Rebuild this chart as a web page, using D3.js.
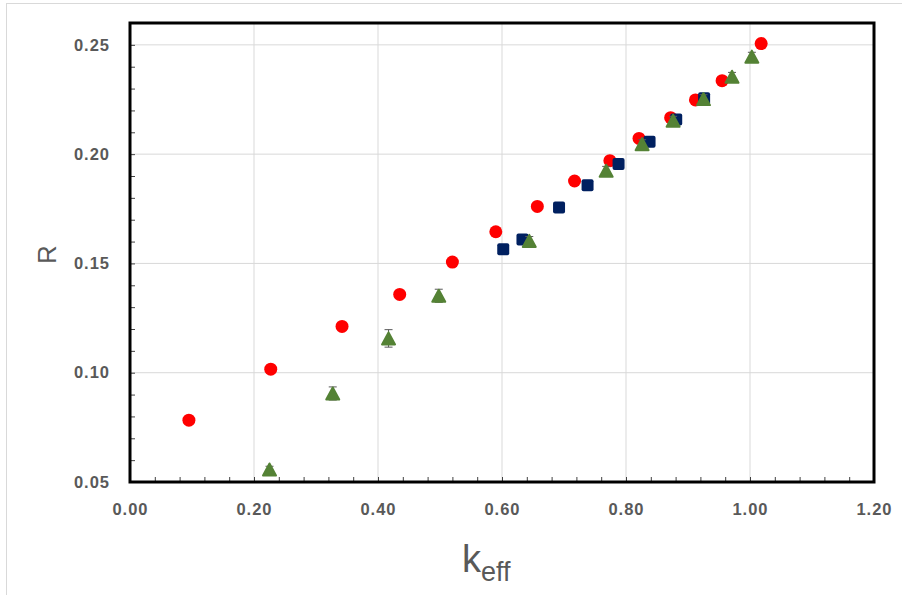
<!DOCTYPE html>
<html>
<head>
<meta charset="utf-8">
<script src="https://cdnjs.cloudflare.com/ajax/libs/d3/7.8.5/d3.min.js"></script>
<style>
	body { margin: 0; background: #fff; }
	svg { display: block; }
	.tick-label { font-family: 'Liberation Sans', Arial, sans-serif; font-weight: bold; font-size: 16.5px; fill: #595959; letter-spacing: 1px; }
	.axis-title { font-family: 'Liberation Sans', Arial, sans-serif; fill: #595959; }
</style>
</head>
<body>
<div id="chart"></div>
<script>
// series
var redX = [0.095, 0.227, 0.342, 0.435, 0.520, 0.590, 0.657, 0.717, 0.774, 0.821, 0.872, 0.912, 0.955, 1.018];
var redY = [0.0783, 0.1016, 0.1212, 0.1358, 0.1506, 0.1645, 0.1761, 0.1877, 0.1970, 0.2072, 0.2167, 0.2248, 0.2336, 0.2506];

var blueX = [0.602, 0.633, 0.692, 0.738, 0.788, 0.838, 0.881, 0.926];
var blueY = [0.1565, 0.1610, 0.1756, 0.1858, 0.1955, 0.2057, 0.2159, 0.2256];

var greenX = [0.225, 0.327, 0.417, 0.498, 0.644, 0.768, 0.826, 0.876, 0.925, 0.971, 1.003];
var greenY = [0.0557, 0.0905, 0.1157, 0.1352, 0.1603, 0.1924, 0.2046, 0.2153, 0.2252, 0.2354, 0.2446];
var greenErr = [0.0015, 0.003, 0.004, 0.003, 0.002, 0.002, 0.002, 0.002, 0.002, 0.002, 0.002];

var xTicks = [0, 0.2, 0.4, 0.6, 0.8, 1.0, 1.2];
var yTicks = [0.05, 0.10, 0.15, 0.20, 0.25];
var xDomain = [0, 1.2];
var yDomain = [0.05, 0.26];

var margin = { top: 23, right: 28, bottom: 113, left: 130 };
var W = 902, H = 595;
var width = W - margin.left - margin.right;
var height = H - margin.top - margin.bottom;

var colors = { red: '#ff0000', blue: '#002060', green: '#548235' };

function zip(xs, ys) {
	return xs.map(function(x, i) { return { x: x, y: ys[i] }; });
}

// triangle centred on its bounding box, like the spreadsheet marker
var triangle = {
	draw: function(context, size) {
		var w = size, h = size * 0.93;
		context.moveTo(0, -h / 2);
		context.lineTo(w / 2, h / 2);
		context.lineTo(-w / 2, h / 2);
		context.closePath();
	}
};

var svg = d3.select('#chart').append('svg')
	.attr('width', W)
	.attr('height', H);

// outer chart frame
svg.append('rect')
	.attr('x', 6.5)
	.attr('y', 3.5)
	.attr('width', W + 20)
	.attr('height', H + 20)
	.attr('fill', 'none')
	.attr('stroke', '#d9d9d9');

var g = svg.append('g')
	.attr('transform', 'translate(' + margin.left + ',' + margin.top + ')');

var x = d3.scaleLinear().domain(xDomain).range([0, width]);
var y = d3.scaleLinear().domain(yDomain).range([height, 0]);

// gridlines
g.append('g')
	.selectAll('line.vgrid')
	.data(xTicks)
	.enter().append('line')
	.attr('x1', function(d) { return x(d); })
	.attr('x2', function(d) { return x(d); })
	.attr('y1', 0)
	.attr('y2', height)
	.attr('stroke', '#d9d9d9')
	.attr('stroke-width', 1);

g.append('g')
	.selectAll('line.hgrid')
	.data(yTicks)
	.enter().append('line')
	.attr('x1', 0)
	.attr('x2', width)
	.attr('y1', function(d) { return y(d); })
	.attr('y2', function(d) { return y(d); })
	.attr('stroke', '#d9d9d9')
	.attr('stroke-width', 1);

// minor tick marks, pointing inward
var xMinor = d3.range(0, 1.2001, 0.04);
var yMinor = d3.range(0.05, 0.2601, 0.01);

g.append('g')
	.attr('transform', 'translate(0,' + height + ')')
	.call(d3.axisTop(x).tickValues(xMinor).tickSize(5).tickFormat(''))
	.call(function(a) {
		a.select('.domain').remove();
		a.selectAll('line').attr('stroke', '#404040');
	});

g.append('g')
	.call(d3.axisRight(y).tickValues(yMinor).tickSize(5).tickFormat(''))
	.call(function(a) {
		a.select('.domain').remove();
		a.selectAll('line').attr('stroke', '#404040');
	});

// tick labels
var xAxis = g.append('g')
	.attr('transform', 'translate(0,' + height + ')')
	.call(d3.axisBottom(x).tickValues(xTicks).tickSize(0).tickPadding(21).tickFormat(d3.format('.2f')));
xAxis.select('.domain').remove();
xAxis.selectAll('text').attr('class', 'tick-label');

var yAxis = g.append('g')
	.call(d3.axisLeft(y).tickValues(yTicks).tickSize(0).tickPadding(20).tickFormat(d3.format('.2f')));
yAxis.select('.domain').remove();
yAxis.selectAll('text').attr('class', 'tick-label');

// plot border
g.append('rect')
	.attr('width', width)
	.attr('height', height)
	.attr('fill', 'none')
	.attr('stroke', '#000')
	.attr('stroke-width', 3);

// red circles
g.append('g')
	.selectAll('circle')
	.data(zip(redX, redY))
	.enter().append('circle')
	.attr('cx', function(d) { return x(d.x); })
	.attr('cy', function(d) { return y(d.y); })
	.attr('r', 6.5)
	.attr('fill', colors.red);

// blue squares
var sq = 12;
g.append('g')
	.selectAll('rect')
	.data(zip(blueX, blueY))
	.enter().append('rect')
	.attr('x', function(d) { return x(d.x) - sq / 2; })
	.attr('y', function(d) { return y(d.y) - sq / 2; })
	.attr('width', sq)
	.attr('height', sq)
	.attr('rx', 2)
	.attr('fill', colors.blue);

// green triangles with error bars
var greenData = greenX.map(function(v, i) {
	return { x: v, y: greenY[i], e: greenErr[i] };
});

var err = g.append('g')
	.attr('stroke', '#595959')
	.attr('stroke-width', 1)
	.selectAll('g')
	.data(greenData)
	.enter().append('g');

err.append('line')
	.attr('x1', function(d) { return x(d.x); })
	.attr('x2', function(d) { return x(d.x); })
	.attr('y1', function(d) { return y(d.y - d.e); })
	.attr('y2', function(d) { return y(d.y + d.e); });

[-1, 1].forEach(function(s) {
	err.append('line')
		.attr('x1', function(d) { return x(d.x) - 4; })
		.attr('x2', function(d) { return x(d.x) + 4; })
		.attr('y1', function(d) { return y(d.y + s * d.e); })
		.attr('y2', function(d) { return y(d.y + s * d.e); });
});

g.append('g')
	.selectAll('path')
	.data(greenData)
	.enter().append('path')
	.attr('transform', function(d) { return 'translate(' + x(d.x) + ',' + y(d.y) + ')'; })
	.attr('d', d3.symbol().type(triangle).size(13))
	.attr('fill', colors.green)
	.attr('stroke', colors.green)
	.attr('stroke-width', 2)
	.attr('stroke-linejoin', 'round');

// axis titles
svg.append('text')
	.attr('class', 'axis-title')
	.attr('transform', 'translate(56,' + (margin.top + height / 2 + 2) + ') rotate(-90)')
	.attr('text-anchor', 'middle')
	.style('font-size', '26px')
	.text('R');

var kTitle = svg.append('text')
	.attr('class', 'axis-title')
	.attr('x', margin.left + x(0.6) - 40)
	.attr('y', 572)
	.style('font-size', '38px');
kTitle.append('tspan').text('k');
kTitle.append('tspan')
	.attr('dy', 9)
	.style('font-size', '27px')
	.text('eff');
</script>
</body>
</html>
